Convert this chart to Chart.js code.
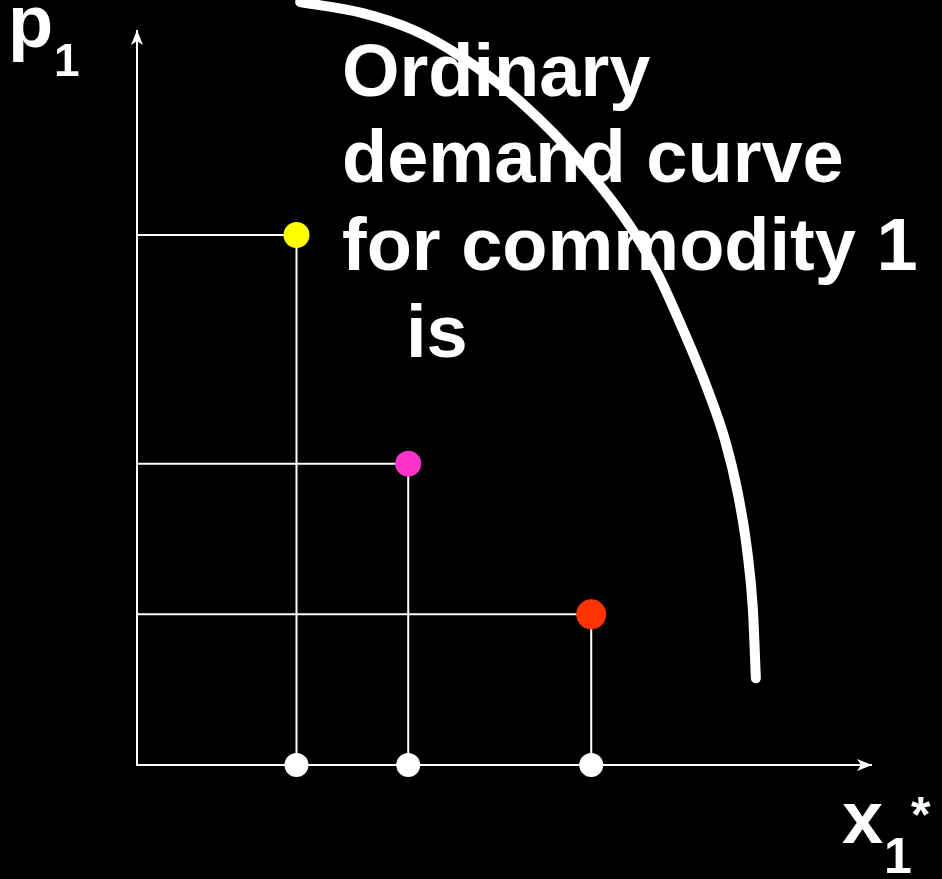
<!DOCTYPE html>
<html>
<head>
<meta charset="utf-8">
<script src="https://cdn.jsdelivr.net/npm/chart.js@4.4.1/dist/chart.umd.min.js"></script>
<style>
html,body{margin:0;padding:0;background:#000;}
#wrap{width:942px;height:879px;}
</style>
</head>
<body>
<div id="wrap"><canvas id="c" width="942" height="879"></canvas></div>
<script>
// ---- data (in axis units: origin = 0, arrow tips = 10) ----
const bundleLabels = ['yellow', 'magenta', 'red'];
const bundleX = [2.17, 3.69, 6.18];          // x1* demanded
const bundleY = [7.21, 4.10, 2.05];          // p1 price
const bundleColors = ['#FFFF00', '#FF33CC', '#FF3300'];

const curveX = [2.22, 3.07, 3.76, 4.39, 5.21, 6.12, 6.71, 7.09, 7.43, 7.74, 8.00, 8.18, 8.30, 8.38, 8.42];
const curveY = [10.38, 10.23, 10.00, 9.65, 9.03, 8.10, 7.33, 6.67, 5.92, 5.17, 4.42, 3.67, 2.93, 2.11, 1.18];

const axisMax = 10;
const textLines = ['Ordinary', 'demand curve', 'for commodity 1', 'is'];

// ---- datasets ----
const curveData = curveX.map((x, i) => ({x, y: curveY[i]}));
const datasets = [];

// axes
datasets.push({
  order: 5,
  data: [{x: 0, y: axisMax}, {x: 0, y: 0}, {x: axisMax, y: 0}],
  showLine: true, borderColor: '#fff', borderWidth: 2, pointRadius: 0, tension: 0,
  borderJoinStyle: 'miter'
});
// guide lines
bundleX.forEach((x, i) => {
  datasets.push({
    order: 4,
    data: [{x: 0, y: bundleY[i]}, {x, y: bundleY[i]}, {x, y: 0}],
    showLine: true, borderColor: '#fff', borderWidth: 2, pointRadius: 0, tension: 0
  });
});
// demand curve
datasets.push({
  order: 3,
  data: curveData, showLine: true, borderColor: '#fff', borderWidth: 10,
  borderCapStyle: 'round', borderJoinStyle: 'round', pointRadius: 0,
  cubicInterpolationMode: 'monotone', clip: false
});
// white dots on x axis
datasets.push({
  order: 1,
  data: bundleX.map(x => ({x, y: 0})),
  showLine: false, pointRadius: 12, pointBackgroundColor: '#fff', pointBorderWidth: 0
});
// coloured bundle points
datasets.push({
  order: 0,
  data: bundleX.map((x, i) => ({x, y: bundleY[i]})),
  showLine: false, pointRadius: [13, 13, 15],
  pointBackgroundColor: bundleColors, pointBorderWidth: 0
});

const bgPlugin = {
  id: 'bg',
  beforeDraw(chart) {
    const ctx = chart.ctx;
    ctx.save(); ctx.fillStyle = '#000';
    ctx.fillRect(0, 0, chart.width, chart.height); ctx.restore();
  }
};

const decoPlugin = {
  id: 'deco',
  afterDatasetsDraw(chart) {
    const ctx = chart.ctx;
    const xs = chart.scales.x, ys = chart.scales.y;
    const ox = xs.getPixelForValue(0), oy = ys.getPixelForValue(0);
    const tx = xs.getPixelForValue(axisMax), ty = ys.getPixelForValue(axisMax);
    ctx.save();
    ctx.fillStyle = '#fff';
    // y arrow
    ctx.beginPath();
    ctx.moveTo(ox, ty);
    ctx.lineTo(ox - 6, ty + 15);
    ctx.lineTo(ox, ty + 11);
    ctx.lineTo(ox + 6, ty + 15);
    ctx.closePath(); ctx.fill();
    // x arrow
    ctx.beginPath();
    ctx.moveTo(tx, oy);
    ctx.lineTo(tx - 15, oy - 6);
    ctx.lineTo(tx - 11, oy);
    ctx.lineTo(tx - 15, oy + 6);
    ctx.closePath(); ctx.fill();

    // texts
    ctx.textBaseline = 'alphabetic';
    ctx.textAlign = 'left';
    ctx.font = "bold 74px 'Liberation Sans', Arial, sans-serif";
    ctx.fillText(textLines[0], 342, 96);
    ctx.fillText(textLines[1], 342, 182);
    ctx.fillText(textLines[2], 342, 270);
    ctx.fillText(textLines[3], 406, 357);

    // p1
    ctx.fillText('p', 8, 47);
    ctx.font = "bold 46px 'Liberation Sans', Arial, sans-serif";
    ctx.fillText('1', 54, 76);
    // x1*
    ctx.font = "bold 74px 'Liberation Sans', Arial, sans-serif";
    ctx.fillText('x', 842, 843);
    ctx.font = "bold 50px 'Liberation Sans', Arial, sans-serif";
    ctx.fillText('1', 884, 873);
    ctx.fillText('*', 911, 832);
    ctx.restore();
  }
};

new Chart(document.getElementById('c'), {
  type: 'scatter',
  data: {datasets},
  options: {
    responsive: false,
    animation: false,
    layout: {padding: 0, autoPadding: false},
    plugins: {legend: {display: false}, tooltip: {enabled: false}},
    scales: {
      x: {type: 'linear', display: false, min: -137 / 73.5, max: (942 - 137) / 73.5},
      y: {type: 'linear', display: false, min: -(879 - 765) / 73.5, max: 765 / 73.5}
    }
  },
  plugins: [bgPlugin, decoPlugin]
});
</script>
</body>
</html>
